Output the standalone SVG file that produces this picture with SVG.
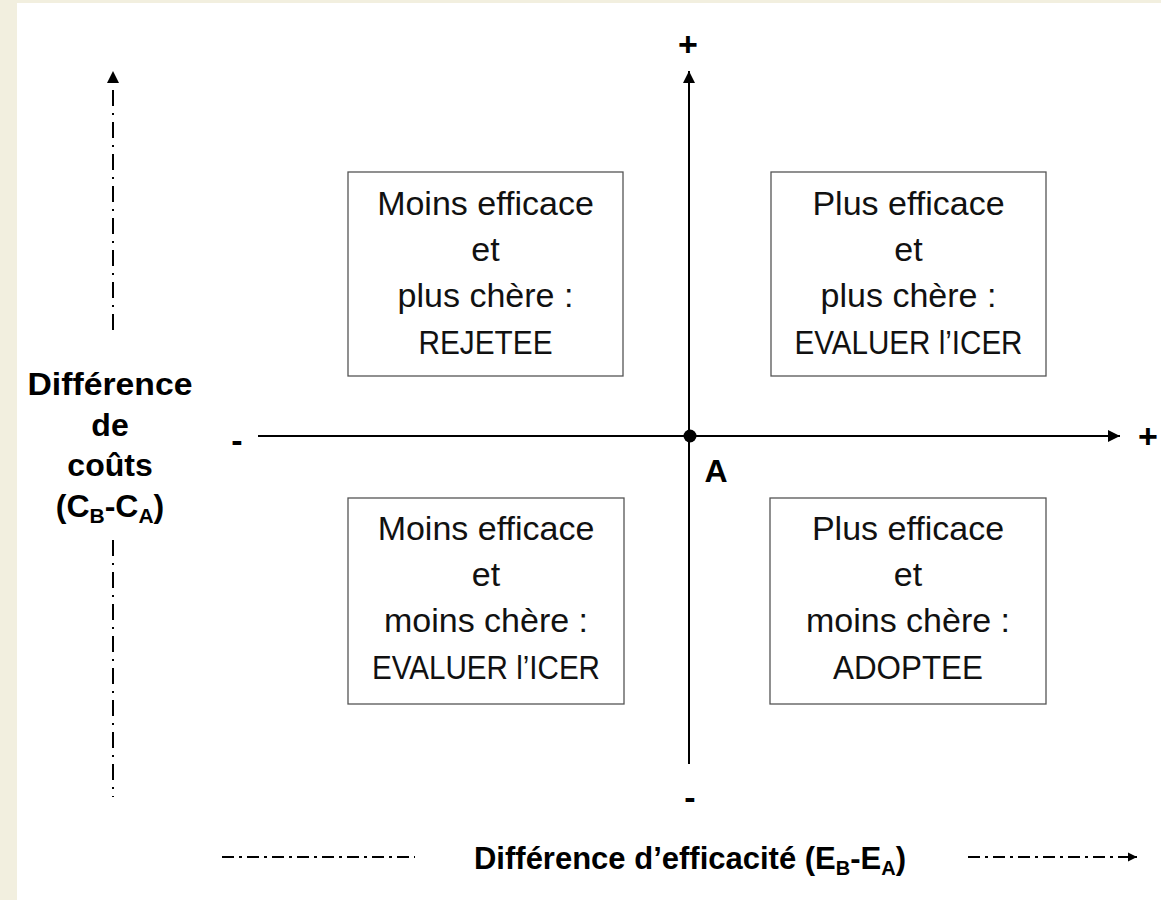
<svg xmlns="http://www.w3.org/2000/svg" width="1161" height="900" viewBox="0 0 1161 900">
<defs>
<style>
.box{fill:#fff;stroke:#555;stroke-width:1.3}
.bt{font-family:"Liberation Sans",Arial,sans-serif;font-size:34px;fill:#111;text-anchor:middle}
.lb{font-family:"Liberation Sans",Arial,sans-serif;font-weight:bold;fill:#000;text-anchor:middle}
.axis{stroke:#000;stroke-width:2;fill:none}
.dd{stroke:#000;stroke-width:2;fill:none;stroke-dasharray:16 7 2 7}
.ddh{stroke:#000;stroke-width:2;fill:none;stroke-dasharray:12 5 3 5}
</style>
<marker id="arr" viewBox="0 0 12 12" refX="12" refY="6" markerWidth="12" markerHeight="12" markerUnits="userSpaceOnUse" orient="auto">
<path d="M0,0 L12,6 L0,12 Z" fill="#000"/>
</marker>
<marker id="arrs" viewBox="0 0 10 10" refX="10" refY="5" markerWidth="9" markerHeight="10" markerUnits="userSpaceOnUse" orient="auto">
<path d="M0,0 L10,5 L0,10 Z" fill="#000"/>
</marker>
</defs>
<rect x="0" y="0" width="1161" height="900" fill="#F2EFDF"/>
<rect x="17" y="3" width="1144" height="897" fill="#fff"/>

<g id="connectors">
<line class="axis" x1="689" y1="764" x2="689" y2="71" marker-end="url(#arr)"/>
<line class="axis" x1="258" y1="436" x2="1120" y2="436" marker-end="url(#arr)"/>
<line class="dd" x1="113" y1="330" x2="113" y2="84"/>
<path d="M107,83 L113,71 L119,83 Z" fill="#000"/>
<line class="dd" x1="113" y1="540" x2="113" y2="797"/>
<line class="ddh" x1="222" y1="857" x2="415" y2="857"/>
<line class="ddh" x1="968" y1="857" x2="1137" y2="857" marker-end="url(#arrs)"/>
</g>

<g id="origin">
<circle cx="690" cy="436" r="6.5" fill="#000"/>
<text class="lb" x="716" y="482" font-size="32">A</text>
</g>

<g id="signs">
<text class="lb" x="688" y="56" font-size="34">+</text>
<text class="lb" x="690" y="809" font-size="34">-</text>
<text class="lb" x="237" y="452" font-size="34">-</text>
<text class="lb" x="1148" y="448" font-size="34">+</text>
</g>

<g id="box-tl">
<rect class="box" x="348" y="172" width="275" height="204"/>
<text class="bt" x="485.5" y="215">Moins efficace</text>
<text class="bt" x="485.5" y="261">et</text>
<text class="bt" x="485.5" y="307">plus chère :</text>
<text class="bt" x="485.5" y="354" textLength="134" lengthAdjust="spacingAndGlyphs">REJETEE</text>
</g>
<g id="box-tr">
<rect class="box" x="771" y="172" width="275" height="204"/>
<text class="bt" x="908.5" y="215">Plus efficace</text>
<text class="bt" x="908.5" y="261">et</text>
<text class="bt" x="908.5" y="307">plus chère :</text>
<text class="bt" x="908.5" y="354" textLength="228" lengthAdjust="spacingAndGlyphs">EVALUER l’ICER</text>
</g>
<g id="box-bl">
<rect class="box" x="348" y="498" width="276" height="206"/>
<text class="bt" x="486" y="540">Moins efficace</text>
<text class="bt" x="486" y="586">et</text>
<text class="bt" x="486" y="632">moins chère :</text>
<text class="bt" x="486" y="679" textLength="228" lengthAdjust="spacingAndGlyphs">EVALUER l’ICER</text>
</g>
<g id="box-br">
<rect class="box" x="770" y="498" width="276" height="206"/>
<text class="bt" x="908" y="540">Plus efficace</text>
<text class="bt" x="908" y="586">et</text>
<text class="bt" x="908" y="632">moins chère :</text>
<text class="bt" x="908" y="679" textLength="150" lengthAdjust="spacingAndGlyphs">ADOPTEE</text>
</g>

<g id="label-y">
<text class="lb" x="110" y="395" font-size="32" textLength="165" lengthAdjust="spacingAndGlyphs">Différence</text>
<text class="lb" x="110" y="436" font-size="32">de</text>
<text class="lb" x="110" y="476" font-size="32">coûts</text>
<text class="lb" x="110" y="517" font-size="32">(C<tspan font-size="21" dy="6">B</tspan><tspan dy="-6">-C</tspan><tspan font-size="21" dy="6">A</tspan><tspan dy="-6">)</tspan></text>
</g>

<g id="label-x">
<text class="lb" x="690" y="869" font-size="31">Différence d’efficacité (E<tspan font-size="20" dy="6">B</tspan><tspan dy="-6">-E</tspan><tspan font-size="20" dy="6">A</tspan><tspan dy="-6">)</tspan></text>
</g>
</svg>
